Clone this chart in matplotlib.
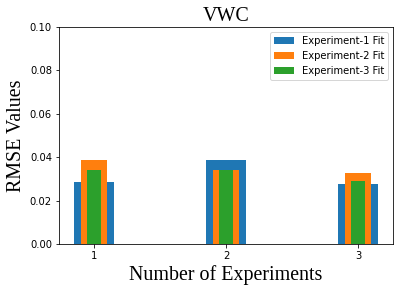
import numpy as np
import matplotlib
matplotlib.use('Agg')
import matplotlib.pyplot as plt

# dados
experimentos = [1, 2, 3]
fit_exp1 = [0.0286, 0.0387, 0.0278]
fit_exp2 = [0.0387, 0.0341, 0.0327]
fit_exp3 = [0.0341, 0.0341, 0.0290]

fig = plt.figure(figsize=(400 / 72, 290 / 72), dpi=72)
ax = fig.add_axes([0.1475, 0.1586, 0.835, 0.7484])

ax.bar(experimentos, fit_exp1, width=0.3, color='#1f77b4', label='Experiment-1 Fit')
ax.bar(experimentos, fit_exp2, width=0.2, color='#ff7f0e', label='Experiment-2 Fit')
ax.bar(experimentos, fit_exp3, width=0.1, color='#2ca02c', label='Experiment-3 Fit')

ax.set_ylim(0, 0.1)
ax.set_xticks(experimentos)
serif = {'family': 'Liberation Serif', 'size': 20}
ax.set_title('VWC', fontdict=serif)
ax.set_xlabel('Number of Experiments', fontdict=serif)
ax.set_ylabel('RMSE Values', fontdict=serif)
ax.legend(loc='upper right')

fig.savefig('out.png', dpi=72)
